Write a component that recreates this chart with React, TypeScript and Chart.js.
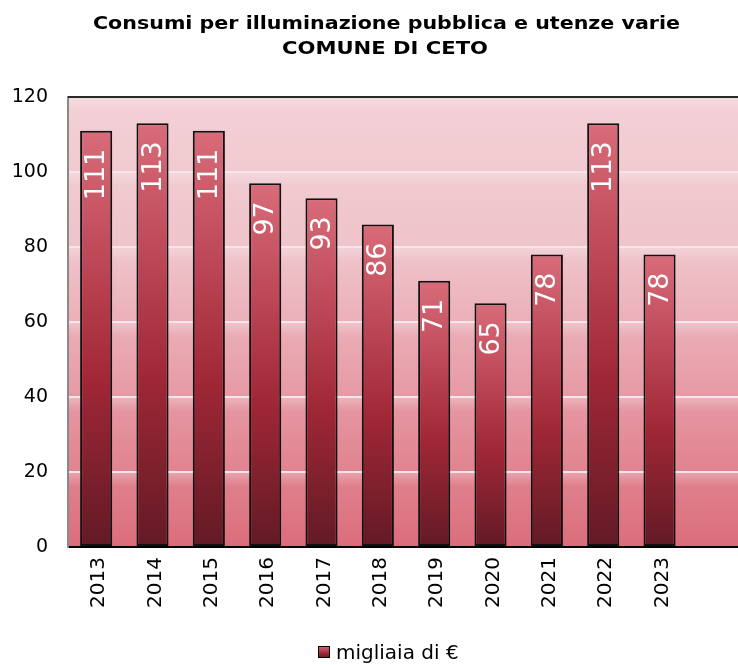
import React, { useEffect, useRef } from "react";
import { Chart, registerables } from "chart.js";

Chart.register(...registerables);

const categories = ["2013", "2014", "2015", "2016", "2017", "2018", "2019", "2020", "2021", "2022", "2023", ""];
const values: (number | null)[] = [111, 113, 111, 97, 93, 86, 71, 65, 78, 113, 78, null];
const seriesName = "migliaia di €";
const titleLines = ["Consumi per illuminazione pubblica e utenze varie", "COMUNE DI CETO"];
const yTicks = [0, 20, 40, 60, 80, 100, 120];

const FONT = '"DejaVu Sans", Verdana, sans-serif';

function barGradient(ctx: CanvasRenderingContext2D, top: number, bottom: number) {
  const g = ctx.createLinearGradient(0, top, 0, bottom);
  g.addColorStop(0, "#d96c7a");
  g.addColorStop(0.35, "#b94352");
  g.addColorStop(0.6, "#a02736");
  g.addColorStop(1, "#621a25");
  return g;
}

function stretchedText(ctx: CanvasRenderingContext2D, text: string, cx: number, y: number, width: number) {
  const w = ctx.measureText(text).width;
  const k = w > 0 ? width / w : 1;
  ctx.save();
  ctx.translate(cx, y);
  ctx.scale(k, 1);
  ctx.textAlign = "center";
  ctx.fillText(text, 0, 0);
  ctx.restore();
}

const decorPlugin = {
  id: "decor",
  beforeDraw(chart: any) {
    const { ctx, chartArea } = chart;
    const { left, right, top, bottom } = chartArea;
    ctx.save();
    const g = ctx.createLinearGradient(0, top, 0, bottom);
    g.addColorStop(0, "#f2d1d6");
    g.addColorStop(0.35, "#efc3ca");
    g.addColorStop(0.7, "#e595a0");
    g.addColorStop(1, "#db6d7b");
    ctx.fillStyle = g;
    ctx.fillRect(left, top, right - left, bottom - top);
    const y = chart.scales.y;
    for (const t of yTicks) {
      if (t === 0) continue;
      const py = y.getPixelForValue(t);
      const gg = ctx.createLinearGradient(0, py, 0, py + 14);
      gg.addColorStop(0, "rgba(255,255,255,0.28)");
      gg.addColorStop(1, "rgba(255,255,255,0)");
      ctx.fillStyle = gg;
      ctx.fillRect(left, py, right - left, 14);
    }
    ctx.restore();
  },
  afterDatasetsDraw(chart: any) {
    const { ctx, chartArea } = chart;
    const meta = chart.getDatasetMeta(0);
    ctx.save();
    ctx.fillStyle = "#ffffff";
    ctx.font = `27px ${FONT}`;
    ctx.textAlign = "right";
    ctx.textBaseline = "middle";
    meta.data.forEach((bar: any, i: number) => {
      const v = values[i];
      if (v == null) return;
      ctx.save();
      ctx.translate(bar.x + 1, bar.y + 18);
      ctx.rotate(-Math.PI / 2);
      ctx.fillText(String(v), 0, 0);
      ctx.restore();
    });
    ctx.strokeStyle = "#2a2a2a";
    ctx.lineWidth = 2;
    ctx.beginPath();
    ctx.moveTo(chartArea.left, chartArea.top);
    ctx.lineTo(chartArea.right, chartArea.top);
    ctx.stroke();
    ctx.restore();
  },
  afterDraw(chart: any) {
    const { ctx } = chart;
    ctx.save();
    ctx.fillStyle = "#000";
    ctx.font = `bold 18px ${FONT}`;
    ctx.textBaseline = "alphabetic";
    stretchedText(ctx, titleLines[0], 386.5, 29, 587);
    stretchedText(ctx, titleLines[1], 385, 54, 206);
    const sx = 318, sy = 646, s = 12;
    ctx.fillStyle = barGradient(ctx, sy, sy + s);
    ctx.fillRect(sx, sy, s, s);
    ctx.strokeStyle = "#000";
    ctx.lineWidth = 1;
    ctx.strokeRect(sx + 0.5, sy + 0.5, s - 1, s - 1);
    ctx.fillStyle = "#000";
    ctx.font = `20px ${FONT}`;
    ctx.textAlign = "left";
    ctx.fillText(seriesName, 336, 659);
    ctx.restore();
  },
};

export default function App() {
  const ref = useRef<HTMLCanvasElement>(null);
  useEffect(() => {
    if (!ref.current) return;
    const chart = new Chart(ref.current, {
      type: "bar",
      data: {
        labels: categories,
        datasets: [
          {
            label: seriesName,
            data: values,
            backgroundColor: (c: any) => {
              const ch = c.chart;
              const y = ch.scales?.y;
              const v = c.raw;
              if (!y || v == null) return "#a02736";
              const t = y.getPixelForValue(v);
              const b = y.getPixelForValue(0);
              if (!Number.isFinite(t) || !Number.isFinite(b) || t === b) return "#a02736";
              return barGradient(ch.ctx, t, b);
            },
            borderColor: "#111111",
            borderWidth: 2,
            borderSkipped: false,
            barPercentage: 0.57,
            categoryPercentage: 1,
          },
        ],
      },
      options: {
        responsive: false,
        animation: false,
        devicePixelRatio: 1,
        layout: { padding: { top: 97, left: 0, right: 3, bottom: 0 } },
        plugins: {
          legend: { display: false },
          title: { display: false },
          tooltip: { enabled: false },
        },
        scales: {
          x: {
            grid: { display: false, drawTicks: false },
            border: { display: true, color: "#000", width: 2 },
            ticks: {
              minRotation: 90,
              maxRotation: 90,
              padding: 10,
              labelOffset: 3,
              color: "#000",
              font: { family: FONT, size: 20 },
              autoSkip: false,
            },
            afterFit: (s: any) => {
              s.height = 118;
            },
          },
          y: {
            min: 0,
            max: 120,
            ticks: {
              stepSize: 20,
              padding: 20,
              color: "#000",
              font: { family: FONT, size: 19 },
            },
            grid: { color: "#f6e6e9", lineWidth: 2, drawTicks: false },
            border: { display: true, color: "#8a8a8a", width: 2 },
            afterFit: (s: any) => {
              s.width = 68;
            },
          },
        },
      },
      plugins: [decorPlugin],
    });
    return () => chart.destroy();
  }, []);
  return (
    <div style={{ position: "fixed", left: 0, top: 0, width: 738, height: 665, overflow: "hidden", background: "#fff" }}>
      <canvas ref={ref} width={750} height={665} style={{ width: 750, height: 665, display: "block" }} />
    </div>
  );
}
